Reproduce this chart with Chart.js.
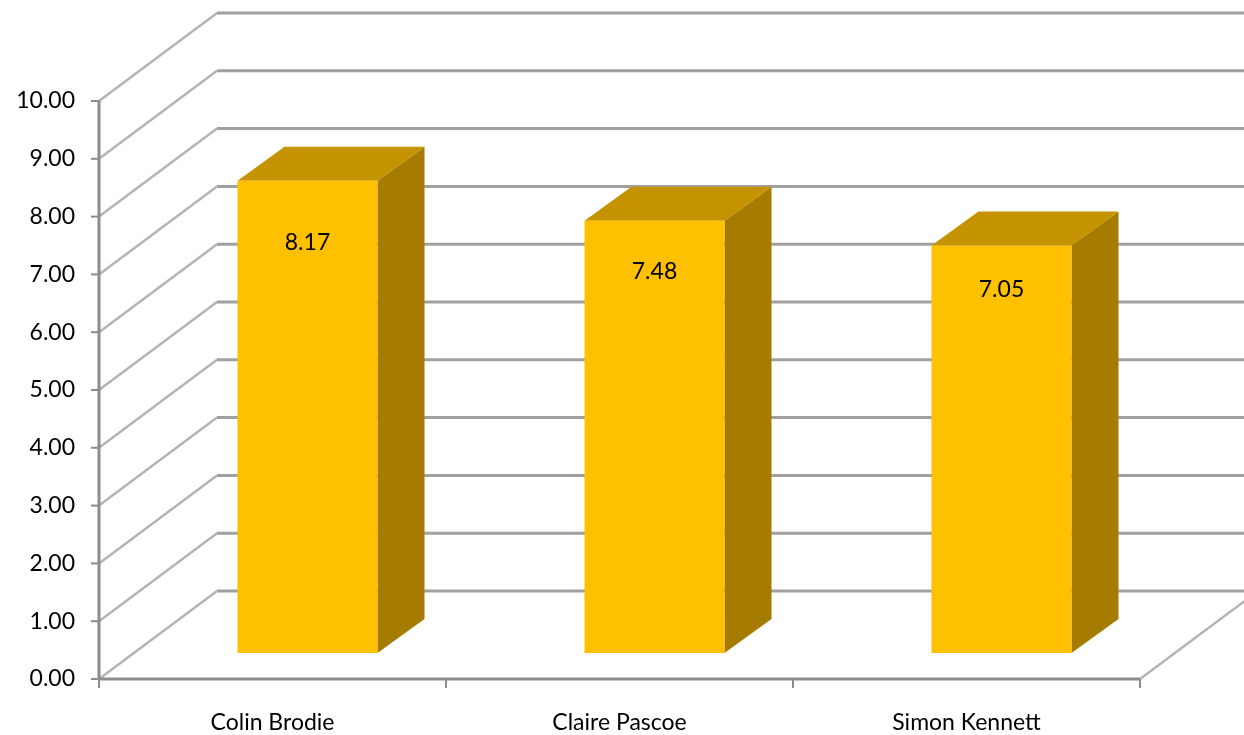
<!DOCTYPE html>
<html><head><meta charset="utf-8">
<script src="https://cdn.jsdelivr.net/npm/chart.js@4.4.1/dist/chart.umd.min.js"></script>
<style>html,body{margin:0;padding:0;background:#fff;}#wrap{width:1244px;height:735px;position:relative;}</style>
</head><body><div id="wrap"><canvas id="c"></canvas></div>
<script>
const categories = ['Colin Brodie', 'Claire Pascoe', 'Simon Kennett'];
const values = [8.17, 7.48, 7.05];
const yTicks = [0, 1, 2, 3, 4, 5, 6, 7, 8, 9, 10];

const FONT = 'Lato, "Open Sans", sans-serif';
// 3D projection offsets (pixels)
const D = { wx: 118, wy: -88, bx: 35, by: -26, dx: 47, dy: -34 };

const threeD = {
  id: 'threeD',
  beforeDatasetsDraw(chart) {
    const ctx = chart.ctx, ys = chart.scales.y, xs = chart.scales.x, a = chart.chartArea;
    const y0 = ys.getPixelForValue(0), yTop = ys.getPixelForValue(10);
    ctx.save();
    // back wall gridlines
    yTicks.forEach(v => {
      const y = ys.getPixelForValue(v) + D.wy;
      ctx.strokeStyle = '#a0a0a0'; ctx.lineWidth = 3;
      ctx.beginPath(); ctx.moveTo(a.left + D.wx, y); ctx.lineTo(a.right + D.wx, y); ctx.stroke();
    });
    // side wall diagonals
    yTicks.forEach(v => {
      const y = ys.getPixelForValue(v);
      ctx.strokeStyle = '#b4b4b4'; ctx.lineWidth = 2.5;
      ctx.beginPath(); ctx.moveTo(a.left, y); ctx.lineTo(a.left + D.wx, y + D.wy); ctx.stroke();
    });
    // floor right edge
    ctx.strokeStyle = '#b4b4b4'; ctx.lineWidth = 2.5;
    ctx.beginPath(); ctx.moveTo(a.right, y0); ctx.lineTo(a.right + D.wx, y0 + D.wy); ctx.stroke();
    // front vertical axis
    ctx.strokeStyle = '#8c8c8c'; ctx.lineWidth = 3;
    ctx.beginPath(); ctx.moveTo(a.left, yTop); ctx.lineTo(a.left, y0 + 1); ctx.stroke();
    // y ticks
    ctx.lineWidth = 2;
    yTicks.forEach(v => {
      const y = ys.getPixelForValue(v);
      ctx.beginPath(); ctx.moveTo(a.left - 8, y); ctx.lineTo(a.left, y); ctx.stroke();
    });
    // x axis line
    ctx.lineWidth = 3;
    ctx.beginPath(); ctx.moveTo(a.left, y0); ctx.lineTo(a.right, y0); ctx.stroke();
    // x ticks at category boundaries
    ctx.lineWidth = 2;
    const n = categories.length;
    for (let i = 0; i <= n; i++) {
      const x = xs.left + i * xs.width / n;
      ctx.beginPath(); ctx.moveTo(x, y0); ctx.lineTo(x, y0 + 9); ctx.stroke();
    }
    ctx.restore();
  },
  afterDatasetsDraw(chart) {
    const ctx = chart.ctx, ys = chart.scales.y;
    const meta = chart.getDatasetMeta(0);
    ctx.save();
    meta.data.forEach((el, i) => {
      const w = el.width;
      const x0 = el.x - w / 2 + D.bx, x1 = el.x + w / 2 + D.bx;
      const yb = ys.getPixelForValue(0) + D.by;
      const yt = ys.getPixelForValue(values[i]) + D.by;
      // side face
      ctx.fillStyle = '#a67c00';
      ctx.beginPath();
      ctx.moveTo(x1, yt); ctx.lineTo(x1 + D.dx, yt + D.dy); ctx.lineTo(x1 + D.dx, yb + D.dy); ctx.lineTo(x1, yb);
      ctx.closePath(); ctx.fill();
      // top face
      ctx.fillStyle = '#c59300';
      ctx.beginPath();
      ctx.moveTo(x0, yt); ctx.lineTo(x1, yt); ctx.lineTo(x1 + D.dx, yt + D.dy); ctx.lineTo(x0 + D.dx, yt + D.dy);
      ctx.closePath(); ctx.fill();
      // front face
      ctx.fillStyle = '#ffc000';
      ctx.fillRect(x0, yt, w, yb - yt);
      // data label
      ctx.fillStyle = '#000';
      ctx.font = '23px ' + FONT;
      ctx.textAlign = 'center'; ctx.textBaseline = 'middle';
      const off = 16 * values[i] - 68.8;
      ctx.fillText(values[i].toFixed(2), (x0 + x1) / 2, yt + off);
    });
    ctx.restore();
  }
};

new Chart(document.getElementById('c'), {
  type: 'bar',
  data: {
    labels: categories,
    datasets: [{ data: values, backgroundColor: 'rgba(0,0,0,0)', borderWidth: 0,
      categoryPercentage: 1, barPercentage: 0.4035 }]
  },
  options: {
    responsive: true, maintainAspectRatio: false, animation: false,
    layout: { padding: { top: 101, right: 104, bottom: 0, left: 0 } },
    plugins: { legend: { display: false }, tooltip: { enabled: false } },
    scales: {
      x: {
        grid: { display: false, drawTicks: false }, border: { display: false },
        ticks: { color: '#000', font: { family: FONT, size: 23 }, padding: 30, maxRotation: 0 },
        afterFit(s) { s.height = 56; }
      },
      y: {
        min: 0, max: 10,
        grid: { display: false, drawTicks: false }, border: { display: false },
        ticks: { stepSize: 1, color: '#000', font: { family: FONT, size: 23 }, padding: 24,
          callback: v => Number(v).toFixed(2) },
        afterFit(s) { s.width = 99; }
      }
    }
  },
  plugins: [threeD]
});
</script></body></html>
